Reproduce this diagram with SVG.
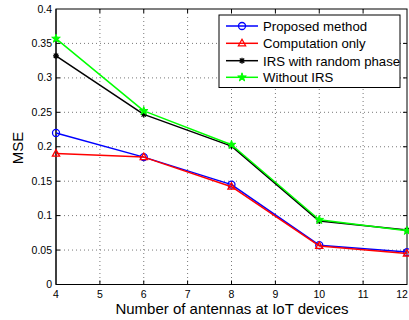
<svg xmlns="http://www.w3.org/2000/svg" xmlns:xlink="http://www.w3.org/1999/xlink" width="409" height="320" viewBox="0 0 409 320">
<style>
text{font-family:"Liberation Sans",Arial,sans-serif;fill:#000}
.tk{font-size:10.5px}
.grid{stroke:#555;stroke-width:0.8;stroke-dasharray:1 3;fill:none}
.ax{stroke:#000;stroke-width:1;fill:none}
.ln{fill:none;stroke-width:1.5;stroke-linejoin:round}
.mk{fill:none;stroke-width:1.3}
.leg{font-size:13.2px}
</style>
<defs>
<circle id="mo" r="3.5" class="mk" stroke="#0000ff"/>
<path id="mt" d="M0,-4 L3.6,2.5 L-3.6,2.5 Z" class="mk" stroke="#ff0000"/>
<path id="ma" d="M-3,0H3M0,-3V3M-2.2,-2.2L2.2,2.2M-2.2,2.2L2.2,-2.2" class="mk" stroke="#000"/>
<path id="ms" d="M0,-4.5 L1.01,-1.39 L4.28,-1.39 L1.64,0.53 L2.645,3.64 L0,1.72 L-2.645,3.64 L-1.64,0.53 L-4.28,-1.39 L-1.01,-1.39 Z" fill="#00ff00" stroke="#00ff00" stroke-width="1"/>
</defs>
<rect width="409" height="320" fill="#fff"/>
<g id="grid">
<path class="grid" d="M99.9,9V284.5M143.75,9V284.5M187.6,9V284.5M231.5,9V284.5M275.4,9V284.5M319.25,9V284.5M363.1,9V284.5"/>
<path class="grid" d="M56,250.06H407M56,215.6H407M56,181.2H407M56,146.75H407M56,112.3H407M56,77.9H407M56,43.4H407"/>
</g>
<g id="axes">
<rect x="56" y="9" width="351" height="275.5" class="ax"/>
<path class="ax" d="M56,9V284.5H407" stroke-width="1.4"/>
<path class="ax" d="M99.9,284.5v-4M143.75,284.5v-4M187.6,284.5v-4M231.5,284.5v-4M275.4,284.5v-4M319.25,284.5v-4M363.1,284.5v-4M99.9,9v4M143.75,9v4M187.6,9v4M231.5,9v4M275.4,9v4M319.25,9v4M363.1,9v4"/>
<path class="ax" d="M56,250.06h4M56,215.6h4M56,181.2h4M56,146.75h4M56,112.3h4M56,77.9h4M56,43.4h4M407,250.06h-4M407,215.6h-4M407,181.2h-4M407,146.75h-4M407,112.3h-4M407,77.9h-4M407,43.4h-4"/>
</g>
<g id="ylabels" text-anchor="end">
<text x="52" y="288" class="tk">0</text>
<text x="52" y="253.6" class="tk">0.05</text>
<text x="52" y="219.1" class="tk">0.1</text>
<text x="52" y="184.7" class="tk">0.15</text>
<text x="52" y="150.3" class="tk">0.2</text>
<text x="52" y="115.8" class="tk">0.25</text>
<text x="52" y="81.4" class="tk">0.3</text>
<text x="52" y="46.9" class="tk">0.35</text>
<text x="52" y="12.5" class="tk">0.4</text>
</g>
<g id="xlabels" text-anchor="middle">
<text x="56" y="298" class="tk">4</text>
<text x="99.9" y="298" class="tk">5</text>
<text x="143.75" y="298" class="tk">6</text>
<text x="187.6" y="298" class="tk">7</text>
<text x="231.5" y="298" class="tk">8</text>
<text x="275.4" y="298" class="tk">9</text>
<text x="319.25" y="298" class="tk">10</text>
<text x="363.1" y="298" class="tk">11</text>
<text x="402" y="298" class="tk">12</text>
</g>
<text x="232" y="314" text-anchor="middle" font-size="15">Number of antennas at IoT devices</text>
<text transform="translate(23,148) rotate(-90)" text-anchor="middle" font-size="15">MSE</text>
<g id="series-proposed">
<polyline class="ln" stroke="#0000ff" points="56,132.97 143.75,157.1 231.5,184.6 319.25,245.2 407,252.1"/>
<use xlink:href="#mo" x="56" y="132.97"/><use xlink:href="#mo" x="143.75" y="157.1"/><use xlink:href="#mo" x="231.5" y="184.6"/><use xlink:href="#mo" x="319.25" y="245.2"/><use xlink:href="#mo" x="407" y="252.1"/>
</g>
<g id="series-computation">
<polyline class="ln" stroke="#ff0000" points="56,153.6 143.75,157.1 231.5,186.7 319.25,245.9 407,253.5"/>
<use xlink:href="#mt" x="56" y="153.6"/><use xlink:href="#mt" x="143.75" y="157.1"/><use xlink:href="#mt" x="231.5" y="186.7"/><use xlink:href="#mt" x="319.25" y="245.9"/><use xlink:href="#mt" x="407" y="253.5"/>
</g>
<g id="series-random">
<polyline class="ln" stroke="#000" points="56,55.8 143.75,114.4 231.5,146.1 319.25,221.1 407,230.1"/>
<use xlink:href="#ma" x="56" y="55.8"/><use xlink:href="#ma" x="143.75" y="114.4"/><use xlink:href="#ma" x="231.5" y="146.1"/><use xlink:href="#ma" x="319.25" y="221.1"/><use xlink:href="#ma" x="407" y="230.1"/>
</g>
<g id="series-without">
<polyline class="ln" stroke="#00ff00" points="56,38.6 143.75,110.9 231.5,144.7 319.25,219.8 407,230.8"/>
<use xlink:href="#ms" x="56" y="38.6"/><use xlink:href="#ms" x="143.75" y="110.9"/><use xlink:href="#ms" x="231.5" y="144.7"/><use xlink:href="#ms" x="319.25" y="219.8"/><use xlink:href="#ms" x="407" y="230.8"/>
</g>
<g id="legend">
<rect x="219" y="15" width="181" height="72.5" fill="#fff" stroke="#000" stroke-width="1"/>
<path d="M226,26H258" stroke="#0000ff" stroke-width="1.5"/><use xlink:href="#mo" x="242" y="26"/>
<path d="M226,43.3H258" stroke="#ff0000" stroke-width="1.5"/><use xlink:href="#mt" x="242" y="43.3"/>
<path d="M226,60.7H258" stroke="#000" stroke-width="1.5"/><use xlink:href="#ma" x="242" y="60.7"/>
<path d="M226,77.3H258" stroke="#00ff00" stroke-width="1.5"/><use xlink:href="#ms" x="242" y="77.3"/>
<text x="263" y="30.8" class="leg">Proposed method</text>
<text x="263" y="48.1" class="leg">Computation only</text>
<text x="263" y="65.5" class="leg">IRS with random phase</text>
<text x="263" y="82.1" class="leg">Without IRS</text>
</g>
</svg>
